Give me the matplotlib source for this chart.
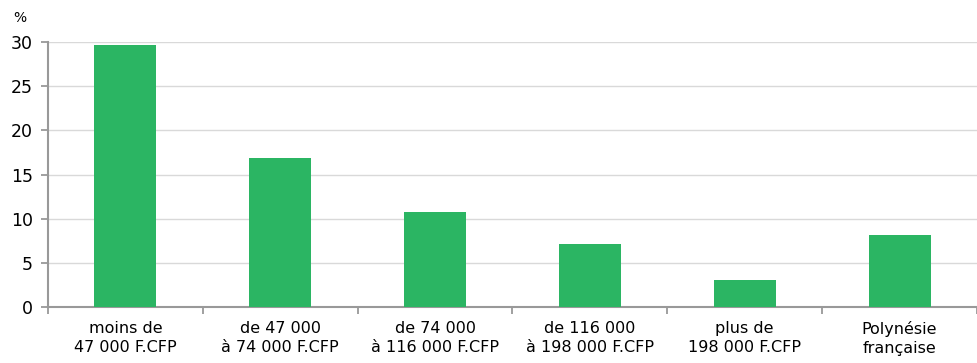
import matplotlib
matplotlib.use("Agg")
import matplotlib.pyplot as plt
import numpy as np

# données
categories = ["moins de\n47 000 F.CFP", "de 47 000\nà 74 000 F.CFP", "de 74 000\nà 116 000 F.CFP",
              "de 116 000\nà 198 000 F.CFP", "plus de\n198 000 F.CFP", "Polynésie\nfrançaise"]
values = [29.7, 16.9, 10.8, 7.1, 3.1, 8.2]
yticks = [0, 5, 10, 15, 20, 25, 30]

plt.rcParams['font.family'] = ['DejaVu Sans']

fig = plt.figure(figsize=(9.78, 3.63), dpi=100)
ax = fig.add_axes([48/978, 1 - 307/363, 1 - 48/978 - 1/978, (307 - 42)/363])

x = np.arange(len(categories))
ax.bar(x, values, width=0.4, color="#2bb563", zorder=3)

ax.set_xlim(-0.5, len(categories) - 0.5)
ax.set_ylim(0, 30)
ax.set_yticks(yticks)
ax.set_yticklabels([str(v) for v in yticks], fontsize=12.5)
ax.yaxis.grid(True, color="#d9d9d9", linewidth=1, zorder=0)

ax.set_xticks(x)
ax.set_xticklabels(categories, fontsize=11.5, linespacing=1.35)
ax.tick_params(axis="x", length=0, pad=10)
ax.set_xticks(np.arange(len(categories) + 1) - 0.5, minor=True)
ax.tick_params(axis="x", which="minor", length=5, color="#999999", width=1.3)
ax.tick_params(axis="y", length=5, color="#999999", width=1.3, pad=6)

for s in ["top", "right"]:
    ax.spines[s].set_visible(False)
for s in ["left", "bottom"]:
    ax.spines[s].set_color("#999999")
    ax.spines[s].set_linewidth(1.5)

fig.text(13/978, 1 - 18/363, "%", fontsize=10, ha="left", va="center")

fig.savefig("out.png", dpi=100)
